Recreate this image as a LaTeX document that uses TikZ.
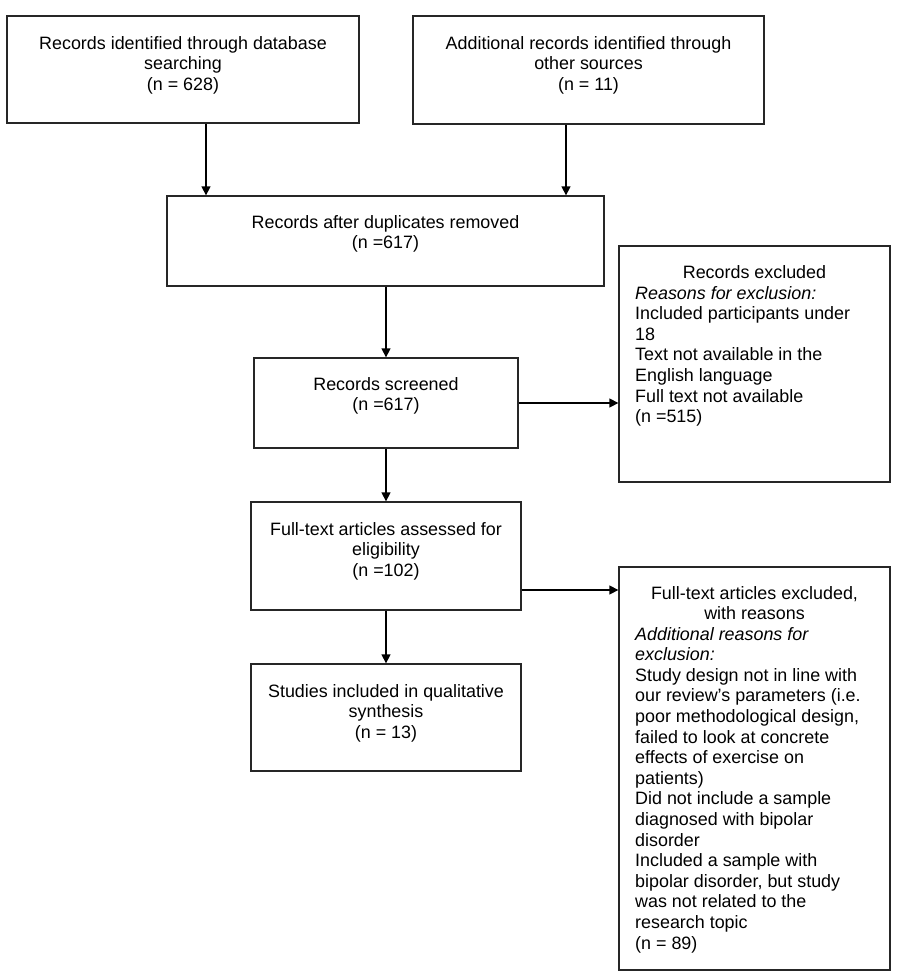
\documentclass[tikz,border=0pt]{standalone}
\usepackage{fontspec}
\setmainfont{Liberation Sans}
\usetikzlibrary{arrows.meta}
\begin{document}
\begin{tikzpicture}[x=1pt,y=-1pt,
  box/.style={draw=black!85, line width=1.3pt, inner sep=0pt, rectangle},
  txt/.style={inner sep=0pt, anchor=north, align=center, font=\fontsize{17.9}{20.6}\selectfont},
  lefttxt/.style={inner sep=0pt, anchor=north west, align=left, font=\fontsize{17.9}{20.6}\selectfont},
  arr/.style={line width=1.3pt, -{Triangle[length=9pt,width=9pt]}}]
\useasboundingbox (0,0) rectangle (901,979);
\fill[white] (0,0) rectangle (901,979);
% boxes
\node[box, minimum width=352pt, minimum height=107pt] (b1) at (183,69.5) {};
\node[box, minimum width=351pt, minimum height=108pt] (b2) at (588.5,70) {};
\node[box, minimum width=437pt, minimum height=90pt] (b3) at (385.5,241) {};
\node[box, minimum width=264pt, minimum height=90pt] (scr) at (386,403) {};
\node[box, minimum width=271pt, minimum height=236pt] (ex1) at (754.5,364) {};
\node[box, minimum width=270pt, minimum height=108pt] (ft) at (386,556) {};
\node[box, minimum width=271pt, minimum height=403pt] (ex2) at (754.5,768.5) {};
\node[box, minimum width=270pt, minimum height=107pt] (st) at (386,717.5) {};
% texts
\node[txt] (t1) at (183,36) {Records identified through database\\searching\\(n = 628)};
\node[txt] (t2) at (588.5,36) {Additional records identified through\\other sources\\(n = 11)};
\node[txt] (t3) at (385.5,215) {Records after duplicates removed\\(n =617)};
\node[txt] (t4) at (386,377) {Records screened\\(n =617)};
\node[txt] (t5) at (386,522) {Full-text articles assessed for\\eligibility\\(n =102)};
\node[txt] (t6) at (386,684) {Studies included in qualitative\\synthesis\\(n = 13)};
\node[txt] (e1h) at (754.5,265) {Records excluded};
\node[lefttxt] (e1b) at (635,286) {\textit{Reasons for exclusion:}\\Included participants under\\18\\Text not available in the\\English language\\Full text not available\\(n =515)};
\node[txt] (e2h) at (754.5,586) {Full-text articles excluded,\\with reasons};
\node[lefttxt] (e2b) at (635,627) {\textit{Additional reasons for}\\\textit{exclusion:}\\Study design not in line with\\our review's parameters (i.e.\\poor methodological design,\\failed to look at concrete\\effects of exercise on\\patients)\\Did not include a sample\\diagnosed with bipolar\\disorder\\Included a sample with\\bipolar disorder, but study\\was not related to the\\research topic\\(n = 89)};
% connectors
\coordinate (a1) at (206,0);
\coordinate (a2) at (566,0);
\coordinate (a3) at (0,590);
\draw[arr] (b1.south -| a1) -- (b3.north -| a1);
\draw[arr] (b2.south -| a2) -- (b3.north -| a2);
\draw[arr] (b3.south -| scr.north) -- (scr.north);
\draw[arr] (scr.east) -- (scr.east -| ex1.west);
\draw[arr] (scr.south) -- (ft.north);
\draw[arr] (ft.east |- a3) -- (ex2.west |- a3);
\draw[arr] (ft.south) -- (st.north);
\end{tikzpicture}
\end{document}
